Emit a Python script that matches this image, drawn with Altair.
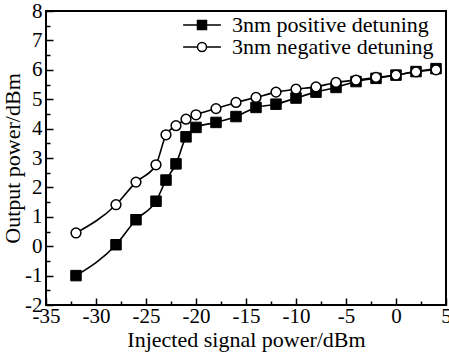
import altair as alt
import pandas as pd

# ---- data ----
series_names = ["3nm positive detuning", "3nm negative detuning"]
pos_x = [-32, -28, -26, -24, -23, -22, -21, -20, -18, -16, -14, -12, -10, -8, -6, -4, -2, 0, 2, 4]
pos_y = [-1.0, 0.05, 0.9, 1.53, 2.25, 2.8, 3.72, 4.04, 4.21, 4.41, 4.72, 4.83, 5.04, 5.24, 5.40, 5.60, 5.71, 5.82, 5.94, 6.04]
neg_x = [-32, -28, -26, -24, -23, -22, -21, -20, -18, -16, -14, -12, -10, -8, -6, -4, -2, 0, 2, 4]
neg_y = [0.45, 1.41, 2.18, 2.77, 3.79, 4.1, 4.32, 4.47, 4.68, 4.89, 5.06, 5.24, 5.34, 5.42, 5.57, 5.65, 5.74, 5.82, 5.93, 6.0]

x_labels = [-35, -30, -25, -20, -15, -10, -5, 0, 5]
x_minor = [-32.5, -27.5, -22.5, -17.5, -12.5, -7.5, -2.5, 2.5]
y_labels = [-2, -1, 0, 1, 2, 3, 4, 5, 6, 7, 8]
y_minor = [-1.5, -0.5, 0.5, 1.5, 2.5, 3.5, 4.5, 5.5, 6.5, 7.5]

df = pd.concat([
    pd.DataFrame({"x": pos_x, "y": pos_y, "series": series_names[0]}),
    pd.DataFrame({"x": neg_x, "y": neg_y, "series": series_names[1]}),
])

FONT = "Liberation Serif"
xs = alt.Scale(domain=[-35, 5], nice=False, zero=False)
ys = alt.Scale(domain=[-2, 8], nice=False, zero=False)

common_axis = dict(domain=False, grid=False, labelFont=FONT, labelFontSize=21,
                   labelColor="black", labelFlush=False, labelOverlap=False,
                   labelBound=False, titleFont=FONT, titleFontSize=22,
                   titleFontWeight="normal", titleColor="black", tickColor="black",
                   labelExpr="'' + datum.value")

x_main = alt.Axis(orient="bottom", values=x_labels, tickSize=0, labelPadding=0,
                  title="Injected signal power/dBm", titlePadding=3, **common_axis)
y_main = alt.Axis(orient="left", values=y_labels, tickSize=0, labelPadding=4,
                  title="Output power/dBm", titlePadding=0, **common_axis)


def tick_axis(orient, vals, size):
    return alt.Axis(orient=orient, values=vals, tickSize=size, offset=-size,
                    labels=False, title=None, domain=False, grid=False,
                    tickColor="black", tickWidth=1.5)


base = alt.Chart(df)

lines = base.mark_line(interpolate="monotone", color="black", strokeWidth=1.6).encode(
    x=alt.X("x:Q", scale=xs, axis=x_main),
    y=alt.Y("y:Q", scale=ys, axis=y_main),
    detail="series:N",
)

squares = base.transform_filter(alt.datum.series == series_names[0]).mark_point(
    shape="square", filled=True, fill="black", stroke="black", strokeWidth=1, size=110, opacity=1
).encode(
    x=alt.X("x:Q", scale=xs, axis=tick_axis("bottom", x_labels, 7)),
    y=alt.Y("y:Q", scale=ys, axis=tick_axis("left", y_labels, 7)),
)

circles = base.transform_filter(alt.datum.series == series_names[1]).mark_point(
    shape="circle", filled=True, fill="white", stroke="black", strokeWidth=1.5, size=95, opacity=1
).encode(
    x=alt.X("x:Q", scale=xs, axis=tick_axis("bottom", x_minor, 4)),
    y=alt.Y("y:Q", scale=ys, axis=tick_axis("left", y_minor, 4)),
)

sq_path = "M-4.2,0H-1M1,0H4.2M-1,-1H1V1H-1Z"
ci_path = "M-4.2,0H-1M1,0H4.2M-1,0A1,1,0,1,1,1,0A1,1,0,1,1,-1,0Z"

leg = alt.Legend(orient="none", legendX=145, legendY=3, title=None,
                 labelFont=FONT, labelFontSize=22, labelColor="black",
                 labelOffset=19, rowPadding=-2, padding=0, symbolSize=81,
                 symbolStrokeWidth=1.5, labelLimit=400)

legend_layer = base.transform_filter("false").mark_point(
    filled=False, strokeWidth=1.5, size=81, opacity=1
).encode(
    shape=alt.Shape("series:N", scale=alt.Scale(domain=series_names, range=[sq_path, ci_path]), legend=leg),
    fill=alt.Fill("series:N", scale=alt.Scale(domain=series_names, range=["black", "white"]), legend=leg),
    stroke=alt.Stroke("series:N", scale=alt.Scale(domain=series_names, range=["black", "black"]), legend=leg),
)

chart = alt.layer(lines, squares, circles, legend_layer).resolve_axis(
    x="independent", y="independent"
).properties(
    width=400, height=294,
    autosize=alt.AutoSizeParams(type="none"),
    padding={"left": 46, "top": 11, "right": 3, "bottom": 52},
).configure(
    background="white", font=FONT
).configure_axis(
    labelFont=FONT, titleFont=FONT
).configure_legend(
    labelFont=FONT
).configure_view(stroke="black", strokeWidth=2, fill="white")

chart.save("out.html", embed_options={"renderer": "svg", "actions": False})
